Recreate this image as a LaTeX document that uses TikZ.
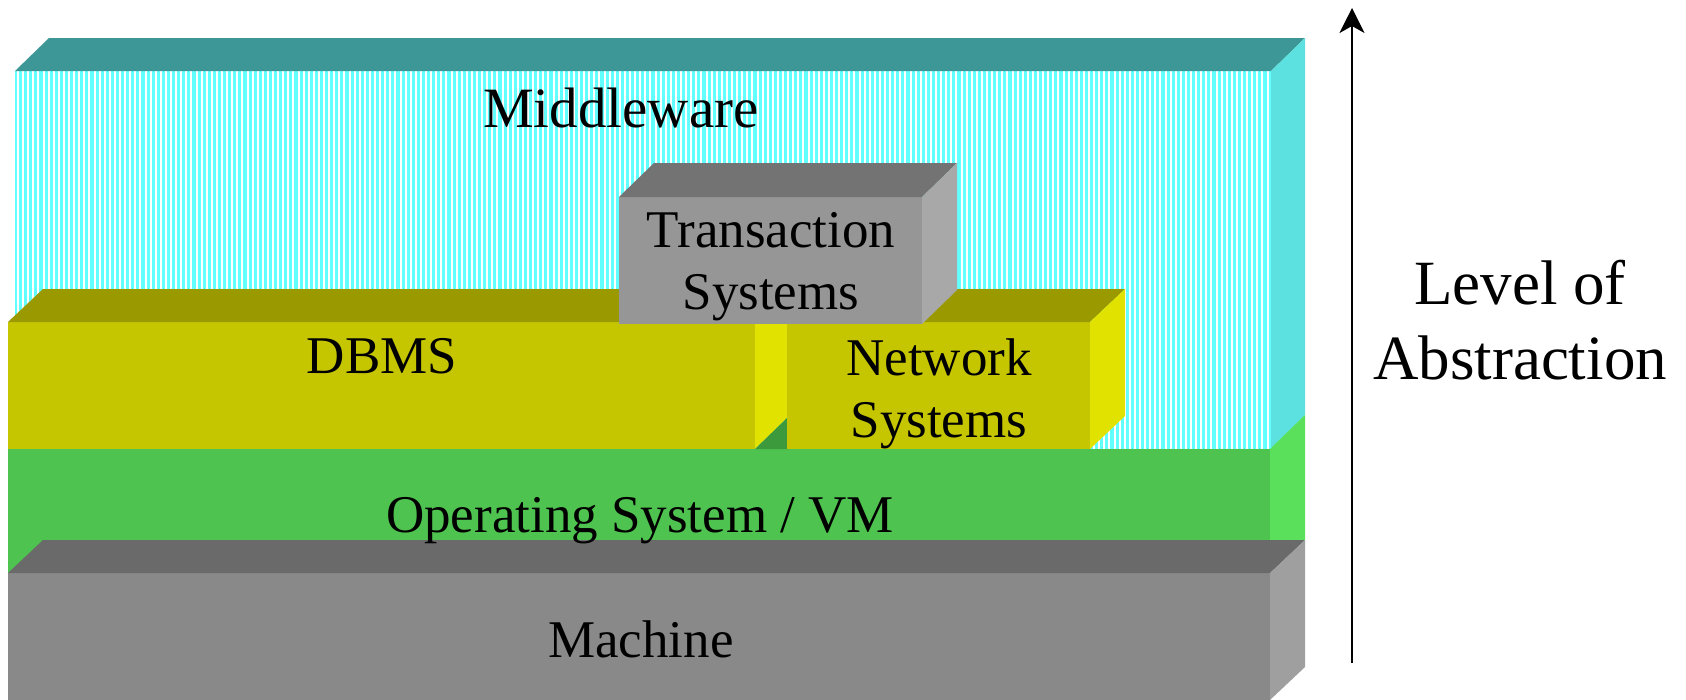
\documentclass[tikz,border=0pt]{standalone}
\usepackage{fontspec}
\setmainfont{Liberation Serif}
\usetikzlibrary{arrows.meta}

\definecolor{mwtop}{HTML}{3D9797}
\definecolor{mwside}{HTML}{5CE0E0}
\definecolor{mwstripe}{HTML}{62FFFF}
\definecolor{osfront}{HTML}{4FC34F}
\definecolor{osside}{HTML}{5BE05B}
\definecolor{osdark}{HTML}{3C9A3C}
\definecolor{machfront}{HTML}{898989}
\definecolor{machtop}{HTML}{6A6A6A}
\definecolor{machside}{HTML}{9F9F9F}
\definecolor{dbfront}{HTML}{C6C600}
\definecolor{dbtop}{HTML}{9A9A00}
\definecolor{dbside}{HTML}{E2E200}
\definecolor{tsfront}{HTML}{969696}
\definecolor{tstop}{HTML}{737373}
\definecolor{tsside}{HTML}{A8A8A8}

\begin{document}
\begin{tikzpicture}[x=1pt, y=-1pt,
  label/.style={inner sep=0pt, anchor=base, align=center, font=\fontsize{53}{62}\selectfont}]

\useasboundingbox (0,0) rectangle (1686,699);

% middleware
\fill[mwstripe] (15,71) rectangle (1271,449);
\foreach \x in {18,23.1,...,1268} \draw[white, line width=2pt] (\x,71) -- (\x,449);
\fill[mwtop] (15,71) -- ++(34,-33) -- (1305,38) -- (1271,71) -- cycle;
\fill[mwside] (1271,71) -- ++(34,-33) -- (1305,415) -- (1271,449) -- cycle;

% operating system
\fill[osfront] (8,449) rectangle (1270,573);
\fill[osside] (1270,449) -- ++(35,-34) -- (1305,540) -- (1270,573) -- cycle;

% machine
\fill[machfront] (8,573) rectangle (1270,700);
\fill[machtop] (8,573) -- ++(35,-33) -- (1305,540) -- (1270,573) -- cycle;
\fill[machside] (1270,573) -- ++(35,-33) -- (1305,667) -- (1270,700) -- cycle;

% dbms
\fill[dbfront] (8,322) rectangle (755,449);
\fill[dbtop] (8,322) -- ++(35,-33) -- (789,289) -- (755,322) -- cycle;
\fill[dbside] (755,322) -- ++(34,-33) -- (789,416) -- (755,449) -- cycle;
\fill[osdark] (755,449) -- (789,416) -- (789,449) -- cycle;

% network systems
\fill[dbfront] (787,322) rectangle (1090,449);
\fill[dbtop] (787,322) -- ++(34,-33) -- (1125,289) -- (1090,322) -- cycle;
\fill[dbside] (1090,322) -- ++(35,-33) -- (1125,416) -- (1090,449) -- cycle;

% transaction systems
\fill[tsfront] (619,197) rectangle (922,324);
\fill[tstop] (619,197) -- ++(35,-34) -- (957,163) -- (922,197) -- cycle;
\fill[tsside] (922,197) -- ++(35,-34) -- (957,290) -- (922,324) -- cycle;

\node[label, font=\fontsize{57}{62}\selectfont] (middleware) at (621,127) {Middleware};
\node[label] (transaction) at (771,309) {Transaction\\Systems};
\node[label] (dbms) at (382,373) {DBMS};
\node[label] (network) at (939,437) {Network\\Systems};
\node[label] (opsys) at (640,532) {Operating System / VM};
\node[label] (machine) at (641,657) {Machine};
\node[label, font=\fontsize{63}{74.5}\selectfont] (level) at (1520,379) {Level of\\Abstraction};

\coordinate (lowend) at (1352,663);
\coordinate (highend) at (1352,8);
\draw[line width=2.2pt, ->, >={Stealth[length=25pt, width=25pt, inset=7pt]}] (lowend) -- (highend);

\end{tikzpicture}
\end{document}
